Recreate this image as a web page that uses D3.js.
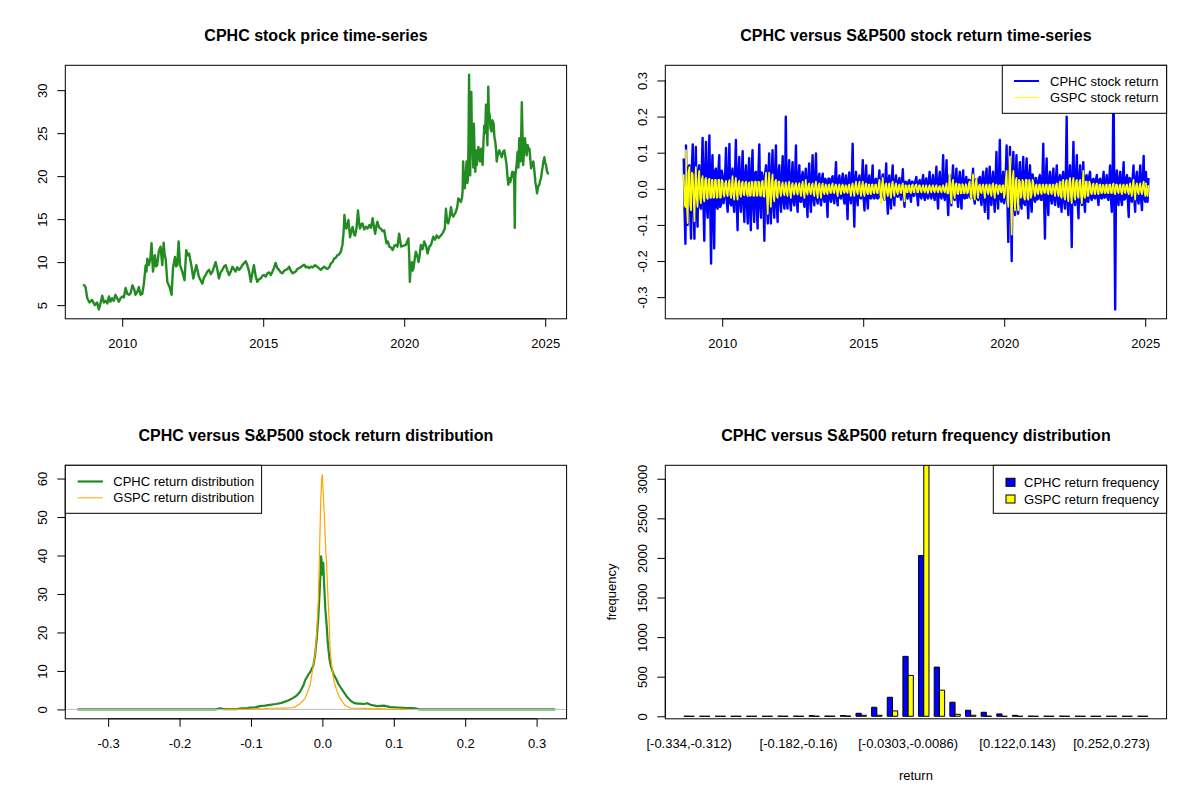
<!DOCTYPE html>
<html>
<head>
<meta charset="utf-8">
<script src="https://cdn.jsdelivr.net/npm/d3@7"></script>
<style>
body{margin:0;background:#fff}
svg{display:block}
</style>
</head>
<body>
<svg id="chart" width="1200" height="800"></svg>
<script>
// ---------------- DATA ----------------
// CPHC closing price (decimal year, price)
const priceYears = [
2008.64,2008.70,2008.76,2008.84,2008.93,2009.03,2009.11,2009.17,2009.23,2009.29,
2009.35,2009.41,2009.47,2009.53,2009.58,2009.64,2009.70,2009.76,2009.82,2009.88,
2009.94,2010.00,2010.06,2010.12,2010.18,2010.24,2010.30,2010.36,2010.42,2010.47,
2010.53,2010.59,2010.65,2010.71,2010.77,2010.83,2010.86,2010.89,2010.95,2011.00,
2011.04,2011.09,2011.16,2011.20,2011.24,2011.30,2011.36,2011.42,2011.47,2011.50,
2011.54,2011.60,2011.68,2011.75,2011.80,2011.87,2011.91,2011.95,2012.00,2012.05,
2012.13,2012.21,2012.27,2012.32,2012.37,2012.45,2012.52,2012.58,2012.63,2012.72,
2012.84,2012.90,2012.96,2013.02,2013.08,2013.14,2013.20,2013.31,2013.37,2013.43,
2013.49,2013.55,2013.61,2013.67,2013.73,2013.79,2013.85,2013.91,2013.96,2014.02,
2014.08,2014.14,2014.20,2014.26,2014.38,2014.44,2014.50,2014.56,2014.62,2014.67,
2014.73,2014.79,2014.85,2014.91,2014.97,2015.03,2015.09,2015.15,2015.21,2015.27,
2015.33,2015.38,2015.44,2015.50,2015.56,2015.62,2015.68,2015.74,2015.80,2015.86,
2015.92,2015.98,2016.04,2016.10,2016.15,2016.21,2016.27,2016.36,2016.45,2016.51,
2016.57,2016.63,2016.69,2016.76,2016.84,2016.90,2016.97,2017.04,2017.10,2017.16,
2017.22,2017.28,2017.34,2017.40,2017.46,2017.51,2017.57,2017.63,2017.69,2017.75,
2017.81,2017.85,2017.88,2017.92,2017.95,2017.99,2018.02,2018.08,2018.12,2018.17,
2018.22,2018.26,2018.31,2018.36,2018.40,2018.43,2018.48,2018.52,2018.58,2018.64,
2018.70,2018.76,2018.82,2018.88,2018.93,2018.97,2019.01,2019.05,2019.11,2019.17,
2019.23,2019.29,2019.37,2019.42,2019.47,2019.53,2019.59,2019.65,2019.70,2019.76,
2019.82,2019.89,2019.96,2020.06,2020.15,2020.18,2020.20,2020.23,2020.27,2020.30,
2020.33,2020.37,2020.41,2020.46,2020.51,2020.55,2020.59,2020.65,2020.71,2020.77,
2020.83,2020.89,2020.95,2021.03,2021.09,2021.15,2021.22,2021.30,2021.37,2021.44,
2021.48,2021.52,2021.56,2021.61,2021.66,2021.70,2021.74,2021.79,2021.83,2021.88,
2021.92,2021.97,2022.01,2022.05,2022.07,2022.09,2022.12,2022.15,2022.18,2022.21,
2022.24,2022.26,2022.28,2022.30,2022.32,2022.34,2022.36,2022.38,2022.40,2022.43,
2022.45,2022.47,2022.50,2022.52,2022.55,2022.57,2022.60,2022.63,2022.66,2022.69,
2022.71,2022.73,2022.76,2022.78,2022.81,2022.84,2022.87,2022.90,2022.93,2022.95,
2022.98,2023.00,2023.03,2023.06,2023.10,2023.13,2023.17,2023.20,2023.23,2023.26,
2023.28,2023.32,2023.37,2023.42,2023.46,2023.50,2023.55,2023.59,2023.63,2023.66,
2023.69,2023.72,2023.76,2023.79,2023.83,2023.87,2023.90,2023.92,2023.94,2023.96,
2023.99,2024.02,2024.05,2024.08,2024.11,2024.13,2024.15,2024.17,2024.20,2024.22,
2024.25,2024.28,2024.31,2024.34,2024.38,2024.41,2024.44,2024.47,2024.50,2024.54,
2024.58,2024.62,2024.65,2024.68,2024.71,2024.75,2024.79,2024.82,2024.85,2024.88,
2024.91,2024.94,2024.97,2025.00,2025.03,2025.06,2025.10
];
const priceValues = [
7.33,7.1,5.8,5.3,5.6,5.0,5.3,4.5,5.2,6.1,
5.3,5.5,5.2,6.0,5.4,5.8,5.5,6.2,5.8,5.4,
5.8,6.0,5.9,7.0,6.3,6.2,6.4,7.3,6.9,6.2,
6.5,7.1,6.2,6.3,7.5,9.6,8.9,10.4,9.65,10.5,
12.2,8.9,10.8,9.5,9.65,11.3,11.8,9.65,12.25,11.0,
10.4,7.7,7.1,6.2,9.3,10.6,9.5,9.65,12.4,9.65,
8.9,7.9,11.4,10.8,11.0,9.65,8.1,9.0,9.65,8.3,
7.5,8.2,8.5,8.9,9.1,8.6,8.9,10.0,9.2,8.1,
8.8,9.1,9.5,9.65,9.0,8.5,8.9,9.46,9.2,8.9,
9.4,9.1,9.3,9.65,10.1,9.6,8.9,7.7,8.8,9.65,
8.4,7.7,8.0,8.1,8.4,8.5,8.3,8.7,8.8,8.5,
8.9,9.3,9.9,9.3,9.1,8.8,8.7,9.0,9.1,9.2,
9.46,9.0,8.7,8.8,8.9,9.2,9.3,9.5,9.7,9.4,
9.46,9.3,9.46,9.4,9.65,9.5,9.3,9.1,9.3,9.46,
9.3,9.2,9.4,9.85,10.0,10.4,10.5,10.8,10.9,11.2,
12.0,13.5,15.5,14.0,13.9,14.5,14.9,12.9,13.6,14.1,
13.2,13.1,14.0,16.0,14.6,13.9,14.4,14.5,13.8,14.1,
13.9,14.3,14.0,15.1,14.0,13.3,14.2,14.7,14.0,13.9,
13.6,13.7,12.2,12.4,11.8,11.7,11.4,11.9,12.0,11.8,
13.3,11.8,11.9,12.0,12.75,10.5,7.7,9.4,10.0,9.0,
9.3,10.3,11.2,10.8,10.0,10.8,12.0,11.5,12.4,11.9,
11.0,11.8,12.0,12.95,12.6,13.1,12.8,13.1,13.4,13.9,
16.2,14.8,14.5,15.2,16.4,15.5,15.3,15.6,15.85,16.4,
17.4,17.2,17.0,17.5,18.2,21.7,19.0,18.6,20.0,21.7,
19.2,19.7,24.0,31.8,24.5,20.1,25.0,29.8,24.0,23.2,
21.0,26.1,22.0,20.5,23.0,21.3,22.0,23.4,22.5,21.7,
23.0,23.2,22.0,21.3,24.0,25.9,25.0,28.3,26.0,23.6,
30.4,27.5,27.1,25.5,25.2,26.5,26.1,24.5,24.0,23.0,
21.7,22.5,23.0,22.5,22.2,22.8,23.0,22.2,21.3,20.0,
19.0,19.8,19.3,19.7,20.5,20.5,19.5,14.0,20.0,20.5,
21.5,22.8,21.0,24.4,23.0,21.7,25.0,28.6,24.0,21.3,
23.0,24.4,23.5,22.4,23.6,23.0,23.2,22.0,20.9,21.5,
21.7,20.5,19.3,18.8,18.0,18.8,19.0,19.5,19.7,20.5,
21.1,21.8,22.2,21.5,21.3,20.6,20.3
];

// Daily returns, summarised per ~0.118-year slice: slice centre, highest and lowest return
const retYears = [
2008.68,2008.76,2008.88,2009.00,2009.11,2009.23,2009.35,2009.47,2009.59,2009.70,
2009.82,2009.94,2010.06,2010.18,2010.30,2010.41,2010.53,2010.65,2010.77,2010.89,
2011.00,2011.12,2011.24,2011.36,2011.48,2011.60,2011.71,2011.83,2011.95,2012.07,
2012.19,2012.30,2012.42,2012.54,2012.66,2012.78,2012.90,2013.01,2013.13,2013.25,
2013.37,2013.49,2013.61,2013.72,2013.84,2013.96,2014.08,2014.20,2014.32,2014.43,
2014.55,2014.67,2014.79,2014.91,2015.03,2015.15,2015.26,2015.38,2015.50,2015.62,
2015.74,2015.86,2015.97,2016.09,2016.21,2016.33,2016.45,2016.56,2016.68,2016.80,
2016.93,2017.05,2017.17,2017.28,2017.40,2017.52,2017.64,2017.76,2017.88,2018.00,
2018.11,2018.23,2018.35,2018.47,2018.59,2018.70,2018.82,2018.94,2019.06,2019.18,
2019.30,2019.42,2019.53,2019.65,2019.77,2019.89,2020.01,2020.13,2020.25,2020.37,
2020.48,2020.60,2020.72,2020.84,2020.96,2021.08,2021.19,2021.31,2021.43,2021.55,
2021.67,2021.79,2021.91,2022.02,2022.14,2022.26,2022.38,2022.50,2022.62,2022.74,
2022.85,2022.97,2023.09,2023.21,2023.33,2023.45,2023.57,2023.68,2023.80,2023.92,
2024.04,2024.16,2024.28,2024.40,2024.51,2024.63,2024.75,2024.87,2024.99,2025.07
];
const cphcHigh = [
0.084,0.12,0.065,0.123,0.116,0.065,0.141,0.13,0.148,0.093,
0.056,0.093,0.037,0.113,0.124,0.056,0.135,0.088,0.104,0.065,
0.085,0.107,0.047,0.123,0.037,0.065,0.098,0.107,0.12,0.065,
0.09,0.2,0.079,0.074,0.12,0.065,0.047,0.056,0.07,0.093,
0.098,0.042,0.042,0.024,0.028,0.035,0.074,0.037,0.042,0.037,
0.045,0.125,0.047,0.037,0.079,0.065,0.037,0.065,0.028,0.051,
0.04,0.07,0.037,0.065,0.037,0.03,0.054,0.019,0.024,0.019,
0.033,0.024,0.038,0.029,0.047,0.038,0.061,0.047,0.093,0.079,
0.038,0.065,0.056,0.047,0.051,0.033,0.024,0.056,0.028,0.033,
0.047,0.056,0.061,0.047,0.102,0.135,0.047,0.12,0.116,0.102,
0.093,0.074,0.088,0.084,0.065,0.028,0.019,0.038,0.125,0.084,
0.047,0.056,0.065,0.038,0.047,0.2,0.065,0.13,0.093,0.065,
0.074,0.038,0.047,0.028,0.038,0.028,0.047,0.038,0.065,0.316,
0.051,0.047,0.074,0.038,0.028,0.065,0.047,0.065,0.091,0.047
];
const cphcLow = [
-0.152,-0.10,-0.138,-0.138,-0.105,-0.055,-0.144,-0.08,-0.207,-0.165,
-0.055,-0.046,-0.027,-0.064,-0.046,-0.064,-0.115,-0.064,-0.092,-0.096,
-0.115,-0.092,-0.11,-0.08,-0.144,-0.096,-0.096,-0.08,-0.092,-0.064,
-0.055,-0.055,-0.06,-0.046,-0.064,-0.036,-0.05,-0.078,-0.064,-0.046,
-0.041,-0.046,-0.036,-0.078,-0.036,-0.04,-0.046,-0.027,-0.041,-0.084,
-0.04,-0.105,-0.046,-0.027,-0.06,-0.055,-0.027,-0.027,-0.027,-0.018,
-0.03,-0.069,-0.055,-0.046,-0.022,-0.03,-0.05,-0.027,-0.036,-0.018,
-0.046,-0.027,-0.031,-0.027,-0.027,-0.031,-0.055,-0.027,-0.031,-0.073,
-0.046,-0.031,-0.05,-0.055,-0.027,-0.018,-0.027,-0.041,-0.031,-0.045,
-0.064,-0.083,-0.045,-0.064,-0.055,-0.036,-0.027,-0.147,-0.2,-0.073,
-0.069,-0.055,-0.045,-0.082,-0.064,-0.036,-0.027,-0.031,-0.138,-0.073,
-0.041,-0.045,-0.05,-0.064,-0.055,-0.073,-0.161,-0.045,-0.082,-0.045,
-0.064,-0.036,-0.031,-0.027,-0.045,-0.027,-0.022,-0.031,-0.064,-0.334,
-0.045,-0.045,-0.027,-0.078,-0.036,-0.064,-0.041,-0.059,-0.036,-0.036
];
const gspcHigh = [
0.04,0.107,0.06,0.04,0.06,0.05,0.035,0.03,0.028,0.025,
0.024,0.025,0.02,0.022,0.024,0.035,0.03,0.022,0.02,0.02,
0.018,0.018,0.02,0.018,0.022,0.045,0.045,0.04,0.025,0.02,
0.018,0.018,0.02,0.016,0.016,0.016,0.02,0.025,0.015,0.015,
0.02,0.015,0.015,0.012,0.012,0.015,0.012,0.012,0.012,0.01,
0.012,0.015,0.02,0.02,0.02,0.015,0.012,0.012,0.012,0.025,
0.03,0.015,0.015,0.02,0.015,0.012,0.015,0.01,0.01,0.012,
0.012,0.01,0.01,0.01,0.01,0.01,0.01,0.008,0.01,0.015,
0.04,0.025,0.015,0.012,0.01,0.01,0.02,0.04,0.03,0.012,
0.012,0.012,0.012,0.015,0.012,0.01,0.01,0.05,0.09,0.05,
0.03,0.02,0.02,0.025,0.015,0.015,0.012,0.012,0.012,0.012,
0.012,0.012,0.015,0.02,0.025,0.025,0.03,0.03,0.025,0.025,
0.05,0.02,0.015,0.015,0.015,0.012,0.01,0.012,0.012,0.015,
0.012,0.012,0.012,0.012,0.015,0.025,0.015,0.015,0.02,0.015
];
const gspcLow = [
-0.05,-0.095,-0.06,-0.09,-0.05,-0.04,-0.035,-0.028,-0.025,-0.024,
-0.024,-0.024,-0.022,-0.02,-0.025,-0.03,-0.03,-0.022,-0.018,-0.02,
-0.018,-0.02,-0.018,-0.02,-0.022,-0.07,-0.05,-0.035,-0.025,-0.02,
-0.018,-0.02,-0.025,-0.016,-0.016,-0.02,-0.025,-0.016,-0.015,-0.02,
-0.025,-0.025,-0.015,-0.015,-0.012,-0.012,-0.02,-0.015,-0.012,-0.012,
-0.02,-0.02,-0.015,-0.02,-0.02,-0.015,-0.015,-0.012,-0.012,-0.04,
-0.03,-0.02,-0.025,-0.02,-0.015,-0.012,-0.035,-0.01,-0.012,-0.01,
-0.01,-0.01,-0.01,-0.012,-0.01,-0.01,-0.01,-0.01,-0.01,-0.012,
-0.04,-0.025,-0.015,-0.012,-0.01,-0.01,-0.03,-0.03,-0.025,-0.012,
-0.025,-0.015,-0.02,-0.025,-0.015,-0.01,-0.012,-0.05,-0.127,-0.06,
-0.06,-0.02,-0.03,-0.03,-0.015,-0.02,-0.015,-0.015,-0.012,-0.015,
-0.015,-0.02,-0.02,-0.025,-0.03,-0.035,-0.04,-0.03,-0.025,-0.04,
-0.025,-0.02,-0.015,-0.015,-0.015,-0.012,-0.012,-0.012,-0.012,-0.015,
-0.012,-0.015,-0.012,-0.015,-0.02,-0.03,-0.015,-0.015,-0.02,-0.02
];
// Typical size of the dense day-to-day band of returns, per calendar year
const coreYears = [2008,2009,2010,2011,2012,2013,2014,2015,2016,2017,2018,2019,2020,2021,2022,2023,2024,2025];
const cphcCore = [0.06,0.05,0.04,0.045,0.035,0.028,0.025,0.025,0.02,0.022,0.025,0.028,0.04,0.03,0.035,0.025,0.03,0.03];
const gspcCore = [0.045,0.025,0.015,0.02,0.01,0.009,0.008,0.011,0.009,0.005,0.013,0.009,0.025,0.01,0.02,0.011,0.009,0.01];

// Kernel density estimates of the returns
const cphcDensX = [-0.343,-0.15,-0.143,-0.138,-0.12,-0.113,-0.106,-0.1017,-0.095,-0.0876,
-0.0805,-0.0736,-0.065,-0.0571,-0.0478,-0.0408,-0.036,-0.0314,-0.0267,-0.0243,
-0.0197,-0.0159,-0.0126,-0.0103,-0.0079,-0.0056,-0.004,-0.0025,-0.0018,-0.001,
0.0,0.0005,0.0012,0.0024,0.0042,0.0061,0.0075,0.0099,0.0117,0.0155,
0.0193,0.0225,0.0263,0.030,0.0347,0.0394,0.0441,0.0488,0.053,0.0582,
0.0625,0.0675,0.0765,0.0863,0.095,0.1046,0.115,0.125,0.13,0.135,0.326];
const cphcDensY = [0.02,0.03,0.25,0.08,0.1,0.3,0.25,0.5,0.45,0.85,
1.0,1.2,1.4,1.7,2.3,3.0,3.6,4.5,6.2,7.5,
9.0,10.1,11.4,14.0,18.3,24.3,30,36,39.8,38.5,
35,37.5,38.1,32.7,26.0,21.7,17.4,13.1,11.4,9.2,
7.9,6.6,5.5,4.5,3.2,2.3,1.7,1.5,1.5,1.4,
1.6,1.2,0.85,1.0,0.6,0.5,0.4,0.35,0.3,0.03,0.02];
const gspcDensX = [-0.135,-0.1,-0.092,-0.086,-0.075,-0.065,-0.055,-0.048,-0.042,-0.0384,
-0.0314,-0.0243,-0.0173,-0.0135,-0.0098,-0.0079,-0.0056,-0.0037,-0.0023,-0.0009,
0.0,0.0012,0.0024,0.0047,0.0061,0.0075,0.0094,0.0108,0.0131,0.0155,
0.0193,0.0249,0.0319,0.039,0.05,0.06,0.07,0.08,0.09,0.118];
const gspcDensY = [0.02,0.05,0.25,0.1,0.3,0.3,0.35,0.4,0.5,0.6,
1.5,2.8,6.2,10.5,14.8,20.0,28.6,43.2,54.4,59.9,
61.0,56.0,52.0,41.4,37.2,30.3,23.4,15.7,11.4,8.0,
5.4,2.8,1.0,0.35,0.3,0.25,0.15,0.2,0.1,0.02];

// Return frequency table (30 bins)
const binLabels = [
"[-0.334,-0.312)","[-0.312,-0.291)","[-0.291,-0.269)","[-0.269,-0.247)","[-0.247,-0.226)",
"[-0.226,-0.204)","[-0.204,-0.182)","[-0.182,-0.16)","[-0.16,-0.139)","[-0.139,-0.117)",
"[-0.117,-0.0954)","[-0.0954,-0.0737)","[-0.0737,-0.052)","[-0.052,-0.0303)","[-0.0303,-0.0086)",
"[-0.0086,0.0131)","[0.0131,0.0348)","[0.0348,0.0565)","[0.0565,0.0782)","[0.0782,0.0999)",
"[0.0999,0.122)","[0.122,0.143)","[0.143,0.165)","[0.165,0.187)","[0.187,0.208)",
"[0.208,0.23)","[0.23,0.252)","[0.252,0.273)","[0.273,0.295)","[0.295,0.317]"
];
const cphcFreq = [1,0,0,0,0,0,2,2,8,3,10,38,114,240,757,2030,621,178,76,51,30,12,2,1,2,1,0,0,0,1];
const gspcFreq = [0,0,0,0,0,0,0,0,0,1,3,13,13,68,516,3170,330,25,13,2,0,0,0,0,0,0,0,0,0,0];

// Tick values
const yearTicks = [2010,2015,2020,2025];
const priceTicks = [5,10,15,20,25,30];
const returnTicks = [-0.3,-0.2,-0.1,0,0.1,0.2,0.3];
const densTicks = [0,10,20,30,40,50,60];
const freqTicks = [0,500,1000,1500,2000,2500,3000];

// ---------------- DRAWING ----------------
const FONT = '"Liberation Sans", Arial, Helvetica, sans-serif';
const svg = d3.select("#chart").attr("font-family", FONT);
svg.append("rect").attr("width",1200).attr("height",800).attr("fill","#fff");

const P = {
  tl:{x0:65.3,x1:566.6,y0:65.3,y1:318.8},
  tr:{x0:665.3,x1:1166.6,y0:65.3,y1:318.8},
  bl:{x0:65.3,x1:566.6,y0:465.3,y1:718.8},
  br:{x0:665.3,x1:1166.6,y0:465.3,y1:718.8}
};
const padR = ([a,b]) => { const d=b-a; return [a-0.04*d, b+0.04*d]; };
const fmt1 = v => v.toFixed(1);
const fmt0 = v => String(v);

const defs = svg.append("defs");
function clipFor(id,p){
  defs.append("clipPath").attr("id",id).append("rect")
    .attr("x",p.x0).attr("y",p.y0).attr("width",p.x1-p.x0).attr("height",p.y1-p.y0);
  return `url(#${id})`;
}
function title(p,t){
  svg.append("text").attr("x",(p.x0+p.x1)/2).attr("y",p.y0-30.3).attr("dy","0.35em")
    .attr("text-anchor","middle").attr("font-weight","bold").attr("font-size",16).text(t);
}
function box(p){
  svg.append("rect").attr("x",p.x0).attr("y",p.y0).attr("width",p.x1-p.x0).attr("height",p.y1-p.y0)
    .attr("fill","none").attr("stroke","#000").attr("stroke-width",1);
}
function xAxis(p,scale,ticks,fmt){
  const g = svg.append("g").attr("transform",`translate(0,${p.y1})`)
    .call(d3.axisBottom(scale).tickValues(ticks).tickFormat(fmt).tickSizeInner(8).tickSizeOuter(0).tickPadding(12));
  g.select(".domain").attr("d",`M${scale(ticks[0])},0H${scale(ticks[ticks.length-1])}`);
  g.attr("font-size",13).attr("font-family",FONT);
  g.selectAll("text").attr("fill","#000");
  g.selectAll("line,path").attr("stroke","#000");
}
function yAxis(p,scale,ticks,fmt){
  const g = svg.append("g").attr("transform",`translate(${p.x0},0)`)
    .call(d3.axisLeft(scale).tickValues(ticks).tickFormat(fmt).tickSizeInner(8).tickSizeOuter(0));
  g.select(".domain").attr("d",`M0,${scale(ticks[0])}V${scale(ticks[ticks.length-1])}`);
  g.attr("font-size",13).attr("font-family",FONT);
  g.selectAll("text").attr("fill","#000").attr("x",0).attr("y",0).attr("dy","0.35em")
    .attr("text-anchor","middle").attr("transform","translate(-23,0) rotate(-90)");
  g.selectAll("line,path").attr("stroke","#000");
}

// ---- Panel 1: price time series ----
const pTL = P.tl;
const xTime = d3.scaleLinear().domain(padR(d3.extent(priceYears))).range([pTL.x0,pTL.x1]);
const yPrice = d3.scaleLinear().domain(padR(d3.extent(priceValues))).range([pTL.y1,pTL.y0]);
svg.append("path").attr("clip-path",clipFor("cTL",pTL))
  .datum(priceYears.map((t,i)=>[t,priceValues[i]]))
  .attr("fill","none").attr("stroke","#228B22").attr("stroke-width",2.4)
  .attr("stroke-linejoin","round").attr("stroke-linecap","round")
  .attr("d",d3.line().x(d=>xTime(d[0])).y(d=>yPrice(d[1])));
box(pTL);
xAxis(pTL,xTime,yearTicks,fmt0);
yAxis(pTL,yPrice,priceTicks,fmt0);
title(pTL,"CPHC stock price time-series");

// ---- Panel 2: return time series ----
const pTR = P.tr;
const xTime2 = d3.scaleLinear().domain(padR(d3.extent(priceYears))).range([pTR.x0,pTR.x1]);
const yRet = d3.scaleLinear().domain(padR(d3.extent(cphcHigh.concat(cphcLow)))).range([pTR.y1,pTR.y0]);
const zig = (hi,lo,core) => retYears.flatMap((t,i)=>{
  const c = core[coreYears.indexOf(Math.floor(t))];
  return [[t-0.045,hi[i]],[t-0.015,-c],[t+0.015,lo[i]],[t+0.045,c]];
});
const retLine = d3.line().x(d=>xTime2(d[0])).y(d=>yRet(d[1]));
const cTR = clipFor("cTR",pTR);
svg.append("path").attr("clip-path",cTR).datum(zig(cphcHigh,cphcLow,cphcCore))
  .attr("fill","none").attr("stroke","#0000FF").attr("stroke-width",2.4)
  .attr("stroke-linejoin","round").attr("d",retLine);
svg.append("path").attr("clip-path",cTR).datum(zig(gspcHigh,gspcLow,gspcCore))
  .attr("fill","none").attr("stroke","#FFFF00").attr("stroke-width",1.7)
  .attr("stroke-linejoin","round").attr("d",retLine);
box(pTR);
xAxis(pTR,xTime2,yearTicks,fmt0);
yAxis(pTR,yRet,returnTicks,fmt1);
title(pTR,"CPHC versus S&P500 stock return time-series");

function lineLegend(x0,x1,y0,y1,lx0,lx1,tx,rows){
  svg.append("rect").attr("x",x0).attr("y",y0).attr("width",x1-x0).attr("height",y1-y0)
    .attr("fill","#fff").attr("stroke","#000").attr("stroke-width",1);
  rows.forEach(r=>{
    svg.append("line").attr("x1",lx0).attr("x2",lx1).attr("y1",r.y).attr("y2",r.y)
      .attr("stroke",r.color).attr("stroke-width",r.w);
    svg.append("text").attr("x",tx).attr("y",r.y).attr("dy","0.35em").attr("font-size",13).text(r.label);
  });
}
lineLegend(1002.3,1166.6,65.3,113.3,1014,1039,1050,[
  {y:81,color:"#0000FF",w:2,label:"CPHC stock return"},
  {y:97.7,color:"#FFFF00",w:1,label:"GSPC stock return"}]);

// ---- Panel 3: return density ----
const pBL = P.bl;
const xDens = d3.scaleLinear().domain(padR([d3.min(cphcLow), d3.max(cphcHigh)])).range([pBL.x0,pBL.x1]);
const yDens = d3.scaleLinear().domain(padR([0, d3.max(gspcDensY.concat(cphcDensY))])).range([pBL.y1,pBL.y0]);
const cBL = clipFor("cBL",pBL);
const densLine = d3.line().x(d=>xDens(d[0])).y(d=>yDens(d[1]));
svg.append("path").attr("clip-path",cBL).datum(cphcDensX.map((x,i)=>[x,cphcDensY[i]]))
  .attr("fill","none").attr("stroke","#228B22").attr("stroke-width",2.2)
  .attr("stroke-linejoin","round").attr("d",densLine);
svg.append("line").attr("x1",pBL.x0).attr("x2",pBL.x1).attr("y1",yDens(0)).attr("y2",yDens(0))
  .attr("stroke","#BEBEBE").attr("stroke-width",1);
svg.append("path").attr("clip-path",cBL).datum(gspcDensX.map((x,i)=>[x,gspcDensY[i]]))
  .attr("fill","none").attr("stroke","#FFA500").attr("stroke-width",1.2)
  .attr("stroke-linejoin","round").attr("d",densLine);
box(pBL);
xAxis(pBL,xDens,returnTicks,fmt1);
yAxis(pBL,yDens,densTicks,fmt0);
title(pBL,"CPHC versus S&P500 stock return distribution");
lineLegend(65.3,261.6,465.3,513.3,77.7,102.9,113.3,[
  {y:481.5,color:"#228B22",w:2.2,label:"CPHC return distribution"},
  {y:497.8,color:"#FFA500",w:1,label:"GSPC return distribution"}]);

// ---- Panel 4: frequency barplot ----
const pBR = P.br;
const nB = binLabels.length;
const xBar = d3.scaleLinear().domain(padR([1, 3*nB])).range([pBR.x0,pBR.x1]);
const hMax = d3.max(cphcFreq.concat(gspcFreq));
const yBar = d3.scaleLinear().domain([-0.01*hMax, hMax]).range([pBR.y1,pBR.y0]);
const cBR = clipFor("cBR",pBR);
const barPath = (a,b,v) => {
  const p = d3.path();
  const xa=xBar(a), xb=xBar(b), y0=yBar(0), y1=yBar(v);
  p.moveTo(xa,y0); p.lineTo(xb,y0); p.lineTo(xb,y1); p.lineTo(xa,y1); p.closePath();
  return p.toString();
};
const barG = svg.append("g").attr("clip-path",cBR);
barG.selectAll("path.c").data(cphcFreq).join("path").attr("class","c")
  .attr("d",(v,i)=>barPath(3*i+1,3*i+2,v)).attr("fill","#0000FF").attr("stroke","#000").attr("stroke-width",1);
barG.selectAll("path.g").data(gspcFreq).join("path").attr("class","g")
  .attr("d",(v,i)=>barPath(3*i+2,3*i+3,v)).attr("fill","#FFFF00").attr("stroke","#000").attr("stroke-width",1);
box(pBR);
yAxis(pBR,yBar,freqTicks,fmt0);
// category labels with R-style overlap skipping (gap = width of "m")
const labG = svg.append("g").attr("font-size",13);
const mT = labG.append("text").text("m");
const gap = mT.node().getComputedTextLength();
mT.remove();
let lastRight = -Infinity;
binLabels.forEach((lab,i)=>{
  const cx = xBar(3*i+2);
  const t = labG.append("text").attr("x",cx).attr("y",pBR.y1+24.5).attr("dy","0.35em")
    .attr("text-anchor","middle").text(lab);
  const w = t.node().getComputedTextLength();
  if (cx - w/2 < lastRight + gap) t.remove(); else lastRight = cx + w/2;
});
svg.append("text").attr("x",(pBR.x0+pBR.x1)/2).attr("y",775).attr("dy","0.35em")
  .attr("text-anchor","middle").attr("font-size",13).text("return");
svg.append("text").attr("transform",`translate(611,${(pBR.y0+pBR.y1)/2}) rotate(-90)`).attr("dy","0.35em")
  .attr("text-anchor","middle").attr("font-size",13).text("frequency");
title(pBR,"CPHC versus S&P500 return frequency distribution");
// fill legend
svg.append("rect").attr("x",993.3).attr("y",465.3).attr("width",1166.6-993.3).attr("height",48)
  .attr("fill","#fff").attr("stroke","#000").attr("stroke-width",1);
[{y:482.3,fill:"#0000FF",label:"CPHC return frequency"},
 {y:499,fill:"#FFFF00",label:"GSPC return frequency"}].forEach(r=>{
  svg.append("rect").attr("x",1006).attr("y",r.y-4).attr("width",9).attr("height",8)
    .attr("fill",r.fill).attr("stroke","#000").attr("stroke-width",1);
  svg.append("text").attr("x",1024).attr("y",r.y).attr("dy","0.35em").attr("font-size",13).text(r.label);
});
</script>
</body>
</html>
